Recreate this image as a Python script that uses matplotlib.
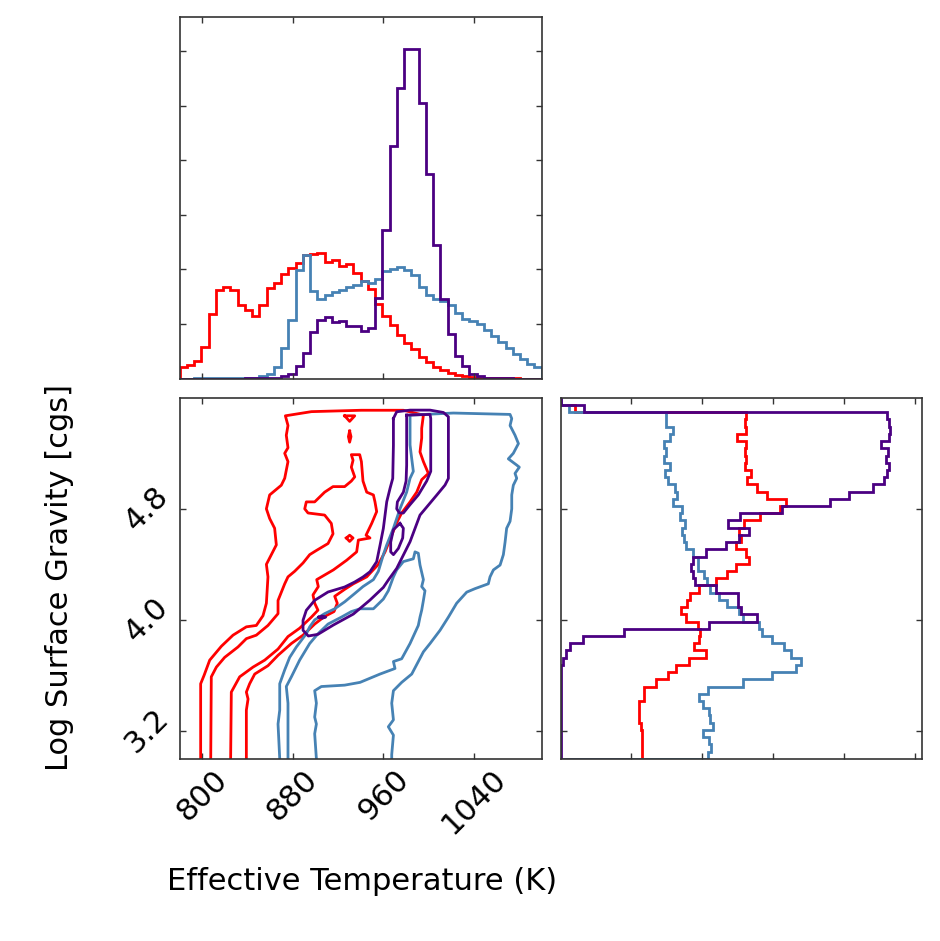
import numpy as np
import matplotlib
matplotlib.use('Agg')
import matplotlib.pyplot as plt

RED = '#ff0000'
BLUE = '#4682b4'
PURPLE = '#4b0082'

# histogram binning (50 bins over the plotted ranges)
teff_edges = np.linspace(780, 1100, 51)
logg_edges = np.linspace(3.0, 5.6, 51)

# marginal Teff distributions (arbitrary units)
teff_red = [0.22, 0.25, 0.33, 0.58, 1.18, 1.63, 1.68, 1.62, 1.35, 1.26,
            1.14, 1.35, 1.66, 1.75, 1.91, 2.02, 2.12, 2.26, 2.28, 2.31,
            2.14, 2.18, 2.07, 2.10, 1.94, 1.78, 1.64, 1.37, 1.15, 0.99,
            0.80, 0.66, 0.55, 0.40, 0.31, 0.22, 0.15, 0.11, 0.07, 0.05,
            0.03, 0.02, 0.012, 0.008, 0.006, 0.004, 0.003, 0.002, 0.001, 0.001]
teff_blue = [0.002, 0.002, 0.003, 0.004, 0.005, 0.006, 0.008, 0.010, 0.012, 0.015,
             0.02, 0.04, 0.09, 0.22, 0.56, 1.08, 1.99, 2.26, 1.60, 1.46,
             1.53, 1.58, 1.63, 1.68, 1.72, 1.79, 1.75, 1.83, 1.97, 2.01,
             2.04, 1.99, 1.89, 1.68, 1.54, 1.46, 1.42, 1.34, 1.21, 1.09,
             1.05, 1.01, 0.90, 0.79, 0.68, 0.56, 0.45, 0.36, 0.26, 0.21]
teff_purple = [0.001, 0.001, 0.001, 0.001, 0.001, 0.001, 0.001, 0.002, 0.002, 0.003,
               0.004, 0.006, 0.01, 0.02, 0.05, 0.09, 0.23, 0.47, 0.85, 1.07,
               1.13, 1.03, 1.05, 0.96, 0.97, 0.88, 0.92, 1.48, 2.73, 4.27,
               5.32, 6.03, 6.04, 5.04, 3.75, 2.44, 1.45, 0.81, 0.42, 0.23,
               0.09, 0.05, 0.02, 0.01, 0.005, 0.003, 0.002, 0.001, 0.001, 0.001]

# marginal log g distributions (arbitrary units)
logg_red = [1.15, 1.15, 1.15, 1.15, 1.14, 1.11, 1.10, 1.10, 1.18, 1.17,
            1.35, 1.51, 1.63, 1.81, 2.06, 1.89, 1.95, 1.97, 1.94, 1.77,
            1.70, 1.79, 1.83, 1.96, 2.19, 2.35, 2.48, 2.66, 2.62, 2.48,
            2.55, 2.52, 2.59, 2.82, 3.10, 3.18, 2.91, 2.78, 2.63, 2.69,
            2.60, 2.62, 2.60, 2.62, 2.49, 2.62, 2.60, 2.62, 0.20, 0.0]
logg_blue = [2.08, 2.12, 2.10, 2.01, 2.15, 2.11, 2.09, 2.01, 1.96, 2.08,
             2.57, 2.99, 3.33, 3.40, 3.25, 3.16, 2.99, 2.85, 2.80, 2.57,
             2.52, 2.35, 2.24, 2.11, 2.07, 2.03, 1.94, 1.94, 1.87, 1.77,
             1.74, 1.71, 1.76, 1.69, 1.71, 1.59, 1.65, 1.61, 1.51, 1.48,
             1.54, 1.46, 1.49, 1.46, 1.54, 1.59, 1.49, 1.49, 0.12, 0.0]
logg_purple = [0.003, 0.003, 0.003, 0.003, 0.003, 0.003, 0.003, 0.003, 0.003, 0.004,
               0.005, 0.006, 0.01, 0.03, 0.07, 0.13, 0.32, 0.89, 2.10, 2.77,
               2.55, 2.50, 2.51, 2.19, 1.90, 1.87, 1.84, 1.87, 2.06, 2.34,
               2.52, 2.66, 2.37, 2.54, 3.13, 3.81, 4.07, 4.42, 4.57, 4.61,
               4.64, 4.60, 4.62, 4.53, 4.64, 4.66, 4.64, 4.61, 0.33, 0.0]

# contour paths in (Teff, log g)
red_outer = [(798.5, 3.00), (798.5, 3.54), (801.5, 3.60), (806.5, 3.71), (816.8, 3.81),
             (827.1, 3.89), (838.9, 3.95), (847.7, 3.96), (853.6, 4.03), (856.6, 4.12),
             (858.0, 4.31), (856.6, 4.40), (861.0, 4.47), (865.4, 4.54), (863.9, 4.66),
             (859.5, 4.73), (856.6, 4.80), (859.5, 4.90), (869.8, 4.97), (872.8, 5.02),
             (875.7, 5.14), (872.8, 5.20), (875.7, 5.24), (874.2, 5.33), (875.7, 5.40),
             (873.4, 5.47), (896.4, 5.50), (940.6, 5.51), (977.7, 5.51), (995.4, 5.475),
             (993.9, 5.38), (993.9, 5.31), (992.4, 5.21), (995.4, 5.14), (999.8, 5.055),
             (993.9, 5.01), (989.5, 4.92), (983.6, 4.85), (976.2, 4.77), (971.8, 4.70),
             (967.4, 4.61), (961.5, 4.49), (955.6, 4.40), (945.3, 4.31), (933.5, 4.26),
             (925.8, 4.22), (917.0, 4.17), (919.3, 4.12), (916.4, 4.06), (908.1, 4.025),
             (899.3, 3.97), (889.0, 3.89), (878.7, 3.83), (866.9, 3.745), (858.0, 3.67),
             (846.3, 3.61), (841.8, 3.54), (838.9, 3.48), (840.4, 3.43), (838.9, 3.35),
             (838.9, 3.00)]
red_mid = [(807.4, 3.00), (807.9, 3.59), (812.4, 3.66), (819.7, 3.73), (831.5, 3.805),
           (838.9, 3.865), (847.7, 3.89), (858.0, 3.96), (866.9, 4.045), (866.9, 4.14),
           (872.8, 4.26), (875.7, 4.31), (881.6, 4.35), (889.0, 4.41), (894.9, 4.47),
           (900.8, 4.50), (911.1, 4.55), (915.5, 4.62), (914.0, 4.695), (908.1, 4.755),
           (893.4, 4.77), (890.5, 4.80), (891.9, 4.85), (899.3, 4.85), (908.1, 4.92),
           (915.5, 4.96), (925.8, 4.96), (931.7, 5.00), (934.7, 5.03), (931.7, 5.10),
           (933.2, 5.15), (931.7, 5.19), (939.1, 5.19), (940.6, 5.14), (942.0, 5.00),
           (945.3, 4.92), (951.2, 4.90), (952.6, 4.85), (954.1, 4.78), (949.7, 4.695),
           (944.7, 4.61), (948.2, 4.59), (937.9, 4.575), (936.4, 4.49), (927.6, 4.43),
           (915.8, 4.36), (901.1, 4.29), (902.5, 4.24), (897.8, 4.18), (899.3, 4.12),
           (902.2, 4.07), (896.4, 4.02), (886.0, 3.94), (875.7, 3.88), (866.9, 3.79),
           (855.1, 3.71), (844.8, 3.66), (833.0, 3.59), (825.6, 3.48), (825.0, 3.00)]
red_tri = [(925.8, 5.47), (934.7, 5.47), (930.2, 5.43), (925.8, 5.47)]
red_oval = [(930.2, 5.36), (931.4, 5.32), (930.2, 5.28), (929.1, 5.32), (930.2, 5.36)]
red_diamond = [(927.3, 4.59), (930.2, 4.61), (933.2, 4.59), (930.2, 4.565), (927.3, 4.59)]

blue_outer = [(868.4, 3.00), (866.9, 3.25), (868.4, 3.35), (868.4, 3.48), (868.4, 3.54),
              (872.8, 3.64), (877.2, 3.73), (883.1, 3.805), (891.9, 3.90), (894.9, 3.95),
              (899.3, 4.00), (908.1, 4.045), (917.0, 4.08), (925.8, 4.13), (934.7, 4.19),
              (942.0, 4.24), (951.2, 4.29), (955.6, 4.35), (960.0, 4.47), (963.0, 4.54),
              (968.9, 4.66), (974.7, 4.80), (980.6, 4.92), (983.6, 5.02), (986.5, 5.07),
              (985.1, 5.16), (983.6, 5.26), (983.6, 5.475), (1021.9, 5.49), (1072.0, 5.48),
              (1073.5, 5.45), (1072.0, 5.40), (1076.4, 5.33), (1079.4, 5.27), (1074.9, 5.20),
              (1070.5, 5.16), (1077.9, 5.115), (1080.2, 5.10), (1076.4, 5.055), (1077.9, 5.02),
              (1074.9, 4.97), (1073.5, 4.90), (1073.5, 4.80), (1072.0, 4.71), (1069.0, 4.66),
              (1067.6, 4.56), (1066.1, 4.47), (1063.2, 4.395), (1057.3, 4.36), (1054.3, 4.31),
              (1052.8, 4.26), (1041.0, 4.225), (1033.7, 4.20), (1024.8, 4.12), (1017.5, 4.02),
              (1010.1, 3.925), (1001.3, 3.83), (995.4, 3.77), (985.1, 3.61), (976.2, 3.55),
              (968.9, 3.49), (967.4, 3.40), (968.9, 3.28), (964.4, 3.23), (968.9, 3.17),
              (967.4, 3.03), (967.4, 3.00)]
blue_mid = [(875.7, 3.00), (875.7, 3.23), (875.7, 3.40), (874.2, 3.52), (878.7, 3.59),
            (886.0, 3.71), (894.9, 3.83), (902.2, 3.90), (911.1, 3.97), (922.9, 4.02),
            (931.7, 4.06), (939.4, 4.08), (951.2, 4.08), (960.0, 4.15), (964.4, 4.21),
            (968.9, 4.31), (971.8, 4.36), (977.7, 4.42), (986.5, 4.44), (988.0, 4.49),
            (990.9, 4.48), (992.4, 4.395), (995.4, 4.29), (993.9, 4.24), (996.8, 4.21),
            (995.4, 4.14), (993.9, 4.07), (992.4, 4.02), (990.9, 3.96), (983.6, 3.83),
            (976.2, 3.72), (968.9, 3.70), (970.3, 3.65), (957.1, 3.61), (951.2, 3.59),
            (939.4, 3.55), (925.8, 3.53), (905.2, 3.52), (899.3, 3.49), (900.8, 3.40),
            (899.3, 3.30), (900.8, 3.25), (899.3, 3.18), (900.8, 3.00)]

purple_outer = [(968.9, 5.451), (971.8, 5.499), (983.6, 5.511), (1001.3, 5.511), (1013.1, 5.494),
                (1017.5, 5.463), (1017.5, 5.379), (1017.5, 5.019), (1014.5, 4.971), (1007.2, 4.899),
                (999.8, 4.827), (992.4, 4.755), (988.0, 4.659), (983.6, 4.563), (977.7, 4.467),
                (971.8, 4.371), (964.4, 4.287), (960.0, 4.234), (948.2, 4.143), (933.5, 4.042),
                (915.8, 3.963), (902.2, 3.896), (893.7, 3.884), (889.0, 3.925), (889.0, 3.997),
                (891.9, 4.069), (899.3, 4.141), (911.1, 4.201), (925.8, 4.237), (934.7, 4.273),
                (942.0, 4.309), (948.2, 4.347), (954.1, 4.419), (957.1, 4.539), (960.0, 4.659),
                (963.0, 4.851), (965.9, 4.947), (968.3, 5.019), (968.9, 5.259), (968.9, 5.451)]
purple_in_top = [(980.6, 5.475), (1001.3, 5.48), (1001.9, 5.45), (1001.9, 5.07), (998.3, 5.00),
                 (990.9, 4.90), (983.6, 4.83), (977.7, 4.77), (974.2, 4.77), (971.8, 4.80),
                 (972.4, 4.85), (977.7, 4.92), (980.1, 5.00), (980.6, 5.115), (980.6, 5.475)]
purple_in_mid = [(974.7, 4.695), (977.7, 4.66), (977.1, 4.59), (973.3, 4.515), (968.9, 4.47),
                 (966.5, 4.49), (966.5, 4.56), (968.9, 4.65), (974.7, 4.695)]
purple_dot = [(903.0, 4.02), (906.0, 4.028), (909.0, 4.02), (906.0, 4.012), (903.0, 4.02)]

teff_ticks = [800, 880, 960, 1040]
logg_ticks = [3.2, 4.0, 4.8]

LW = 2.0
fig = plt.figure(figsize=(9.4, 9.41), dpi=100)
ax_top = fig.add_axes([0.1912, 0.5976, 0.3851, 0.3847])
ax_main = fig.add_axes([0.1912, 0.1937, 0.3851, 0.3836])
ax_right = fig.add_axes([0.5965, 0.1937, 0.3847, 0.3836])

for vals, c in [(teff_red, RED), (teff_blue, BLUE), (teff_purple, PURPLE)]:
    ax_top.stairs(vals, teff_edges, color=c, lw=LW)
for vals, c in [(logg_red, RED), (logg_blue, BLUE), (logg_purple, PURPLE)]:
    ax_right.stairs(vals, logg_edges, orientation='horizontal', color=c, lw=LW)

contours = [(red_outer, RED), (red_mid, RED), (red_tri, RED), (red_oval, RED),
            (red_diamond, RED), (blue_outer, BLUE), (blue_mid, BLUE),
            (purple_outer, PURPLE), (purple_in_top, PURPLE), (purple_in_mid, PURPLE),
            (purple_dot, PURPLE)]
for path, c in contours:
    xs, ys = zip(*path)
    ax_main.plot(xs, ys, color=c, lw=LW, solid_joinstyle='round')

ax_top.set_xlim(780, 1100)
ax_top.set_ylim(0, 6.63)
ax_main.set_xlim(780, 1100)
ax_main.set_ylim(3.0, 5.6)
ax_right.set_ylim(3.0, 5.6)
ax_right.set_xlim(0, 5.11)

ax_top.set_xticks(teff_ticks)
ax_top.set_yticks([1, 2, 3, 4, 5, 6])
ax_main.set_xticks(teff_ticks)
ax_main.set_yticks(logg_ticks)
ax_right.set_yticks(logg_ticks)
ax_right.set_xticks([1, 2, 3, 4, 5])

for ax in (ax_top, ax_main, ax_right):
    ax.tick_params(direction='in', top=True, right=True, length=4, width=1,
                   color='#333333')
    for s in ax.spines.values():
        s.set_color('#333333')
        s.set_linewidth(1.2)

ax_top.tick_params(labelbottom=False, labelleft=False)
ax_right.tick_params(labelbottom=False, labelleft=False)

ax_main.set_xticklabels([str(t) for t in teff_ticks], rotation=45,
                        ha='center', va='top', fontsize=22)
ax_main.set_yticklabels(['%.1f' % t for t in logg_ticks], rotation=45,
                        ha='right', va='center', fontsize=22)
ax_main.tick_params(axis='x', pad=4)
ax_main.tick_params(axis='y', pad=4)

fig.text(0.385, 0.0627, 'Effective Temperature (K)', ha='center', va='center',
         fontsize=22)
fig.text(0.0638, 0.3858, 'Log Surface Gravity [cgs]', ha='center', va='center',
         rotation=90, fontsize=22)

fig.savefig('out.png', dpi=100)
